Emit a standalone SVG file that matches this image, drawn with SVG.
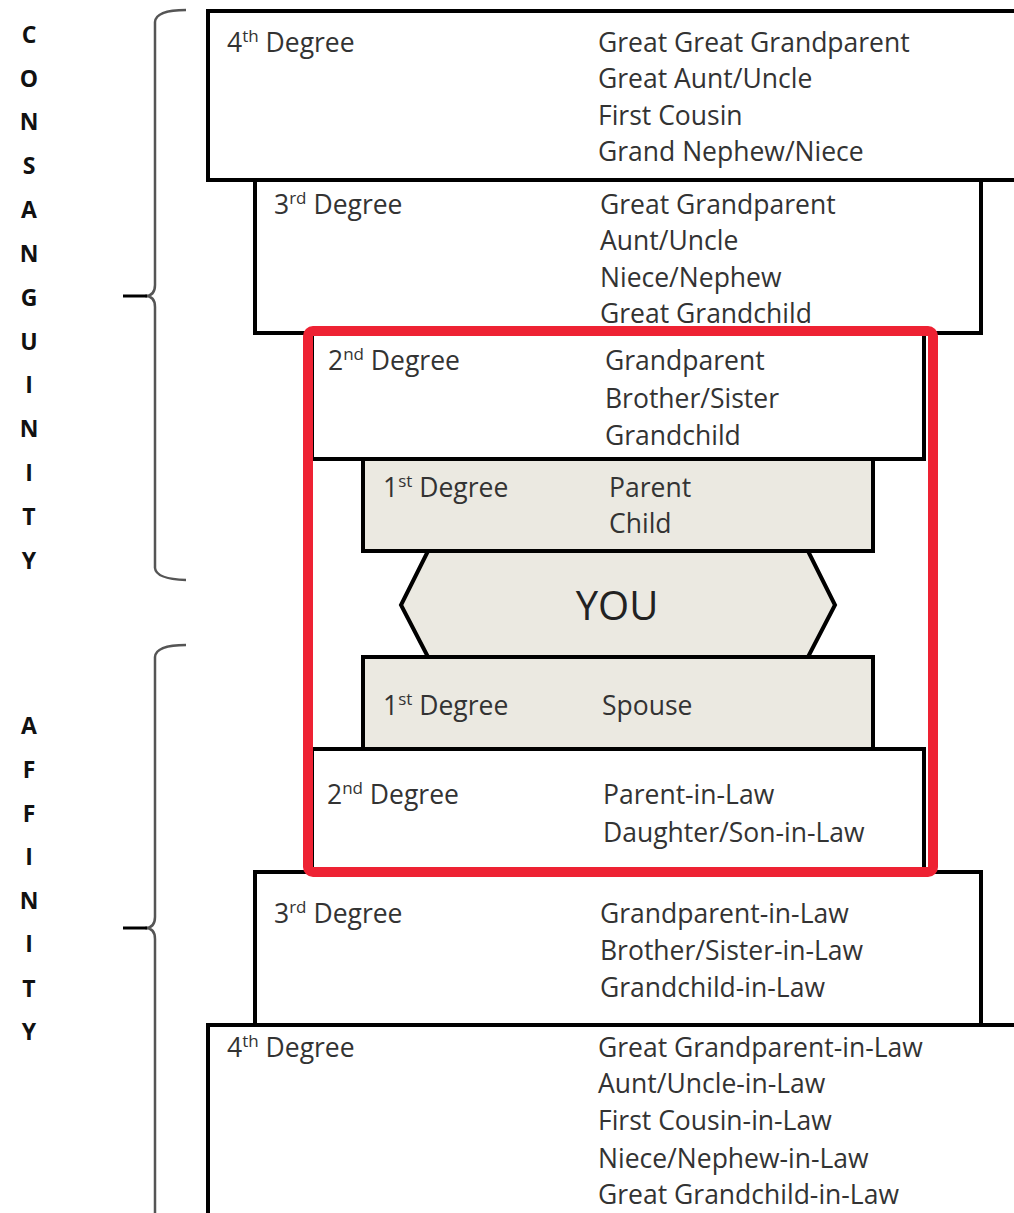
<svg xmlns="http://www.w3.org/2000/svg" width="1014" height="1213" viewBox="0 0 1014 1213">
<style>
.box{fill:#fff;stroke:#000;stroke-width:4}
.g{fill:#ebe9e1;stroke:#000;stroke-width:4}
.t{font-family:"Open Sans","Liberation Sans",sans-serif;font-size:26.5px;fill:#333}
.sup{font-size:17px}
.you{font-family:"Open Sans","Liberation Sans",sans-serif;font-size:40px;fill:#222;text-anchor:middle}
.lt{font-family:"Open Sans","Liberation Sans",sans-serif;font-size:23px;font-weight:bold;fill:#111;text-anchor:middle}
.br{fill:none;stroke:#555;stroke-width:2.5}
.tick{stroke:#000;stroke-width:3}
.red{fill:none;stroke:#ee2233;stroke-width:10}
</style>
<rect width="1014" height="1213" fill="#fff"/>

<g id="label-consanguinity">
<text class="lt" x="29" y="43">C</text>
<text class="lt" x="29" y="87">O</text>
<text class="lt" x="29" y="130">N</text>
<text class="lt" x="29" y="174">S</text>
<text class="lt" x="29" y="218">A</text>
<text class="lt" x="29" y="262">N</text>
<text class="lt" x="29" y="306">G</text>
<text class="lt" x="29" y="350">U</text>
<text class="lt" x="29" y="393">I</text>
<text class="lt" x="29" y="437">N</text>
<text class="lt" x="29" y="481">I</text>
<text class="lt" x="29" y="525">T</text>
<text class="lt" x="29" y="569">Y</text>
</g>
<g id="label-affinity">
<text class="lt" x="29" y="734">A</text>
<text class="lt" x="29" y="778">F</text>
<text class="lt" x="29" y="822">F</text>
<text class="lt" x="29" y="865">I</text>
<text class="lt" x="29" y="909">N</text>
<text class="lt" x="29" y="952">I</text>
<text class="lt" x="29" y="997">T</text>
<text class="lt" x="29" y="1040">Y</text>
</g>

<g id="brace-consanguinity">
<path class="br" d="M186 10 Q156 10 155 22 L155 285 Q155 296 145 296 Q155 296 155 307 L155 568 Q156 579 186 580"/>
<line class="tick" x1="123" y1="296" x2="147" y2="296"/>
</g>
<g id="brace-affinity">
<path class="br" d="M186 645 Q156 645 155 657 L155 917 Q155 928 145 928 Q155 928 155 939 L155 1213"/>
<line class="tick" x1="123" y1="928" x2="147" y2="928"/>
</g>

<g id="c4">
<rect class="box" x="208" y="11" width="820" height="169"/>
<text class="t" x="227" y="52">4<tspan class="sup" dy="-10">th</tspan><tspan dy="10"> Degree</tspan></text>
<text class="t" x="598" y="52">Great Great Grandparent</text>
<text class="t" x="598" y="88">Great Aunt/Uncle</text>
<text class="t" x="598" y="125">First Cousin</text>
<text class="t" x="598" y="161">Grand Nephew/Niece</text>
</g>
<g id="c3">
<rect class="box" x="255" y="180" width="726" height="153"/>
<text class="t" x="274" y="214">3<tspan class="sup" dy="-10">rd</tspan><tspan dy="10"> Degree</tspan></text>
<text class="t" x="600" y="214">Great Grandparent</text>
<text class="t" x="600" y="250">Aunt/Uncle</text>
<text class="t" x="600" y="287">Niece/Nephew</text>
<text class="t" x="600" y="323">Great Grandchild</text>
</g>
<g id="c2">
<rect class="box" x="312" y="333" width="612" height="126"/>
<text class="t" x="328" y="370">2<tspan class="sup" dy="-10">nd</tspan><tspan dy="10"> Degree</tspan></text>
<text class="t" x="605" y="370">Grandparent</text>
<text class="t" x="605" y="408">Brother/Sister</text>
<text class="t" x="605" y="445">Grandchild</text>
</g>
<g id="c1">
<rect class="g" x="363" y="459" width="510" height="92"/>
<text class="t" x="383" y="497">1<tspan class="sup" dy="-10">st</tspan><tspan dy="10"> Degree</tspan></text>
<text class="t" x="609" y="497">Parent</text>
<text class="t" x="609" y="533">Child</text>
</g>
<g id="you">
<polygon class="g" points="428,551 808,551 835,605 808,657 428,657 401,605"/>
<text class="you" x="617" y="620">YOU</text>
</g>
<g id="a1">
<rect class="g" x="363" y="657" width="510" height="92"/>
<text class="t" x="383" y="715">1<tspan class="sup" dy="-10">st</tspan><tspan dy="10"> Degree</tspan></text>
<text class="t" x="602" y="715">Spouse</text>
</g>
<g id="a2">
<rect class="box" x="312" y="749" width="612" height="121"/>
<text class="t" x="327" y="804">2<tspan class="sup" dy="-10">nd</tspan><tspan dy="10"> Degree</tspan></text>
<text class="t" x="603" y="804">Parent-in-Law</text>
<text class="t" x="603" y="842">Daughter/Son-in-Law</text>
</g>
<g id="a3">
<rect class="box" x="255" y="872" width="726" height="153"/>
<text class="t" x="274" y="923">3<tspan class="sup" dy="-10">rd</tspan><tspan dy="10"> Degree</tspan></text>
<text class="t" x="600" y="923">Grandparent-in-Law</text>
<text class="t" x="600" y="960">Brother/Sister-in-Law</text>
<text class="t" x="600" y="997">Grandchild-in-Law</text>
</g>
<g id="a4">
<rect class="box" x="208" y="1025" width="820" height="200"/>
<text class="t" x="227" y="1057">4<tspan class="sup" dy="-10">th</tspan><tspan dy="10"> Degree</tspan></text>
<text class="t" x="598" y="1057">Great Grandparent-in-Law</text>
<text class="t" x="598" y="1093">Aunt/Uncle-in-Law</text>
<text class="t" x="598" y="1130">First Cousin-in-Law</text>
<text class="t" x="598" y="1168">Niece/Nephew-in-Law</text>
<text class="t" x="598" y="1204">Great Grandchild-in-Law</text>
</g>
<g id="connectors"></g>
<g id="highlight">
<rect class="red" x="308" y="331" width="625" height="541" rx="5"/>
</g>
</svg>
